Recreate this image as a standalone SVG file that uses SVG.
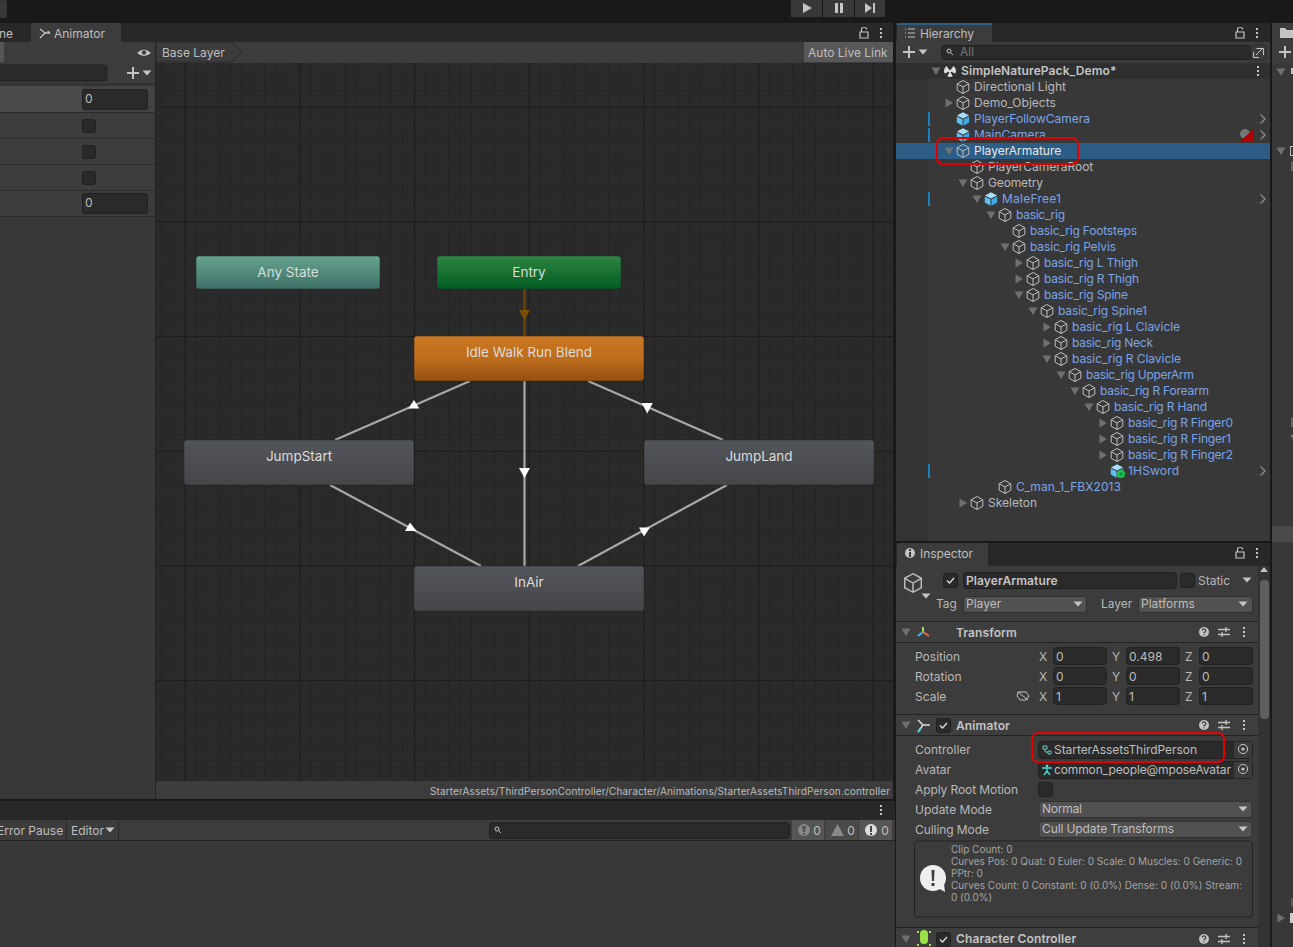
<svg xmlns="http://www.w3.org/2000/svg" width="1293" height="947" viewBox="0 0 1293 947">
<style>
text{font-family:Inter,"Noto Sans","Liberation Sans",sans-serif;font-size:12px;fill:#bebebe}
.b{fill:#7ba4e6}.w{fill:#e8e8e8}.g{fill:#b8b8b8}.h{font-weight:600;fill:#c4c4c4;letter-spacing:.1px}.sm{font-size:10px;fill:#a4a4a4}
.n{font-size:13.5px;text-anchor:middle;fill:#dcdcdc}
.f{fill:#2a2a2a;stroke:#212121}.dd{fill:#515151;stroke:#303030}.sep{fill:#232323}
.node{stroke:#2a2a2a;stroke-width:.5}
.edge{stroke:#a8a8a8;stroke-width:2.2;fill:none}
.head{fill:#fff}
.red{fill:none;stroke:#e30000;stroke-width:2}
</style>
<defs>
<pattern id="grid" x="184.6" y="106.7" width="114.7" height="114.7" patternUnits="userSpaceOnUse">
<rect width="114.7" height="114.7" fill="#2a2a2a"/>
<path d="M11.47 0V114.7M22.94 0V114.7M34.41 0V114.7M45.88 0V114.7M57.35 0V114.7M68.82 0V114.7M80.29 0V114.7M91.76 0V114.7M103.23 0V114.7M0 11.47H114.7M0 22.94H114.7M0 34.41H114.7M0 45.88H114.7M0 57.35H114.7M0 68.82H114.7M0 80.29H114.7M0 91.76H114.7M0 103.23H114.7" stroke="#252525" stroke-width="1"/>
<path d="M.5 0V114.7M0 .5H114.7" stroke="#1b1b1b" stroke-width="1"/>
</pattern>
<linearGradient id="gAny" x1="0" y1="0" x2="0" y2="1"><stop offset="0" stop-color="#66a38f"/><stop offset="1" stop-color="#3e7067"/></linearGradient>
<linearGradient id="gEntry" x1="0" y1="0" x2="0" y2="1"><stop offset="0" stop-color="#2e8543"/><stop offset="1" stop-color="#025c22"/></linearGradient>
<linearGradient id="gIdle" x1="0" y1="0" x2="0" y2="1"><stop offset="0" stop-color="#cb7722"/><stop offset=".5" stop-color="#bd6d1c"/><stop offset="1" stop-color="#94500f"/></linearGradient>
<linearGradient id="gGrey" x1="0" y1="0" x2="0" y2="1"><stop offset="0" stop-color="#52555b"/><stop offset="1" stop-color="#454649"/></linearGradient>
<symbol id="cube" viewBox="-7 -7 14 14" overflow="visible"><path d="M0-6.5 5.8-3.3V3.3L0 6.5-5.8 3.3V-3.3ZM-5.8-3.3 0 0 5.8-3.3M0 0V6.5" fill="none" stroke="#bebebe" stroke-width="1"/></symbol>
<symbol id="bcube" viewBox="-7 -7 14 14" overflow="visible"><path d="M0-6.8 6-3.5 0-.4-6-3.5Z" fill="#a6e0ff"/><path d="M-6.2-2.6-.5.4V6.8L-6.2 3.6Z" fill="#5cc1f5"/><path d="M6.2-2.6.5.4V6.8L6.2 3.6Z" fill="#3fa9e8"/></symbol>
<symbol id="dn" viewBox="-5 -5 10 10"><path d="M-4.5-3.5H4.5L0 4Z" fill="#6f6f6f"/></symbol>
<symbol id="rt" viewBox="-5 -5 10 10"><path d="M-3.5-4.5V4.5L4-0Z" fill="#6f6f6f"/></symbol>
<symbol id="dots" viewBox="-2 -6 4 12"><path d="M-1-5H1V-3H-1ZM-1-1H1V1H-1ZM-1 3H1V5H-1Z" fill="#c4c4c4"/></symbol>
<symbol id="plus" viewBox="-7 -7 14 14"><path d="M-6-1H-1V-6H1V-1H6V1H1V6H-1V1H-6Z" fill="#c4c4c4"/></symbol>
<symbol id="lock" viewBox="-5 -6 10 12"><path d="M-4-1H4V5H-4ZM-2.500-1V-3.500A2.500 2.500 0 0 1 2.500-3.500" fill="none" stroke="#c4c4c4" stroke-width="1.200"/></symbol>
<symbol id="chev" viewBox="-4 -6 8 12"><path d="M-2.500-4.500 2-0-2.500 4.500" fill="none" stroke="#8a8a8a" stroke-width="1.400"/></symbol>
<symbol id="arr" viewBox="-5 -3 10 6"><path d="M-4.500-2.500H4.500L0 2.500Z" fill="#c4c4c4"/></symbol>
<symbol id="help" viewBox="-6 -6 12 12"><circle r="5" fill="#c4c4c4"/><path d="M-1.800-1.500A1.800 1.800 0 1 1 0 .4V1.300M0 2.200V3.400" fill="none" stroke="#3c3c3c" stroke-width="1.200"/></symbol>
<symbol id="sliders" viewBox="-7 -6 14 12"><path d="M-6-2.500H6M-6 2.500H6M2-5V0M-2 0V5" fill="none" stroke="#c4c4c4" stroke-width="1.300"/></symbol>
<symbol id="chk" viewBox="-7.500 -7.500 15 15"><rect x="-7" y="-7" width="14" height="14" rx="2" fill="#2a2a2a" stroke="#212121"/><path d="M-3.500 0-1 2.500 3.500-2.500" fill="none" stroke="#ddd" stroke-width="1.400"/></symbol>
<symbol id="picker" viewBox="-6 -6 12 12"><circle r="4.600" fill="none" stroke="#c4c4c4"/><circle r="1.600" fill="#c4c4c4"/></symbol>
</defs>

<!-- chrome -->
<rect width="1293" height="947" fill="#191919"/>
<rect x="0" y="0" width="7" height="18" rx="2" fill="#383838"/>
<g id="playbar">
<rect x="791" y="0" width="31" height="17" fill="#383838"/><rect x="823" y="0" width="31" height="17" fill="#383838"/><rect x="855" y="0" width="30" height="17" fill="#383838"/>
<path d="M803 3V13L812 8Z" fill="#c4c4c4"/><path d="M835 3H838V13H835ZM840 3H843V13H840Z" fill="#c4c4c4"/><path d="M865 3V13L872 8ZM873 3H875V13H873Z" fill="#c4c4c4"/>
</g>

<!-- animator panel -->
<g id="animator-panel">
<rect x="0" y="23" width="893" height="19" fill="#282828"/>
<text x="-1" y="38">ne</text>
<path d="M31 25a2 2 0 0 1 2-2H119a2 2 0 0 1 2 2V42H31Z" fill="#3c3c3c"/>
<path d="M40 29 45 33 40 38M44 33H50M47.500 31 50 33" fill="none" stroke="#c4c4c4" stroke-width="1.300"/>
<text x="54" y="38">Animator</text>
<use href="#lock" x="859" y="27" width="10" height="12"/>
<use href="#dots" x="879" y="27" width="4" height="12"/>
<rect x="0" y="42" width="893" height="21" fill="#3c3c3c"/>
<rect x="155" y="42" width="1" height="21" fill="#232323"/>
<rect x="0" y="42" width="4" height="20" fill="#555"/>
<path d="M137 53Q144 46 151 53Q144 59 137 53Z" fill="#c4c4c4"/><circle cx="144" cy="52.500" r="2.200" fill="#3c3c3c"/>
<path d="M156 42H232L242 52 232 62H156Z" fill="#3c3c3c" stroke="#2a2a2a"/>
<text x="162" y="57">Base Layer</text>
<rect x="804" y="42" width="89" height="20" fill="#585858"/>
<text x="808" y="57">Auto Live Link</text>
<rect x="0" y="62" width="156" height="737" fill="#383838"/>
<rect x="0" y="62" width="155" height="21" fill="#3c3c3c"/>
<rect x="-10" y="65" width="117" height="16" rx="3" fill="#2a2a2a" stroke="#212121"/>
<use href="#plus" x="126" y="66" width="14" height="14"/>
<use href="#arr" x="142" y="70" width="10" height="6"/>
<rect x="0" y="83" width="155" height="3" fill="#333"/>
<rect x="0" y="86" width="82" height="26" fill="#4a4a4a"/>
<rect x="82" y="86" width="73" height="26" fill="#434343"/>
<rect x="0" y="112" width="155" height="26" fill="#3c3c3c"/><rect x="0" y="138" width="155" height="26" fill="#3c3c3c"/><rect x="0" y="164" width="155" height="26" fill="#3c3c3c"/><rect x="0" y="190" width="155" height="26" fill="#3c3c3c"/>
<path d="M0 112.500H155M0 138.500H155M0 164.500H155M0 190.500H155M0 216.500H155" stroke="#2a2a2a"/>
<rect x="82.500" y="89.500" width="65" height="20" rx="2" class="f"/><text x="85" y="103">0</text>
<rect x="82.500" y="119.500" width="13" height="13" rx="2" class="f"/>
<rect x="82.500" y="145.500" width="13" height="13" rx="2" class="f"/>
<rect x="82.500" y="171.500" width="13" height="13" rx="2" class="f"/>
<rect x="82.500" y="193.500" width="65" height="20" rx="2" class="f"/><text x="85" y="207">0</text>
<rect x="156" y="63" width="737" height="718" fill="url(#grid)"/>
<rect x="155" y="62" width="1" height="737" fill="#232323"/>
<rect x="156" y="781" width="737" height="18" fill="#3c3c3c"/>
<text x="430" y="795" textLength="460" class="sm" style="fill:#bcbcbc">StarterAssets/ThirdPersonController/Character/Animations/StarterAssetsThirdPerson.controller</text>
</g>

<!-- connectors -->
<g id="connectors">
<path d="M524.500 289V336" stroke="#6d4606" stroke-width="2.400" fill="none"/>
<path d="M519 310H530L524.500 320Z" fill="#7d4f00"/>
<path class="edge" d="M524.500 381V566"/>
<path class="head" d="M519 468H530L524.500 478Z"/>
<path class="edge" d="M335 440 470 381"/>
<path class="head" d="M408.300 408.500H419.300L414 400Z"/>
<path class="edge" d="M330 485 481 566"/>
<path class="head" d="M405 531H416.500L410 522.500Z"/>
<path class="edge" d="M588 381 723 440"/>
<path class="head" d="M641.700 403H652.700L647.300 413.500Z"/>
<path class="edge" d="M578 566 727 485"/>
<path class="head" d="M639 527.500H650L644 536.500Z"/>
</g>

<!-- state nodes -->
<g id="node-any-state"><rect class="node" x="196" y="256" width="184" height="33" rx="3" fill="url(#gAny)"/><text class="n" x="288" y="277">Any State</text></g>
<g id="node-entry"><rect class="node" x="437" y="256" width="184" height="33" rx="3" fill="url(#gEntry)"/><text class="n" x="529" y="277">Entry</text></g>
<g id="node-idle"><rect class="node" x="414" y="336" width="230" height="45" rx="3" fill="url(#gIdle)"/><text class="n" x="529" y="357">Idle Walk Run Blend</text></g>
<g id="node-jumpstart"><rect class="node" x="184" y="440" width="230" height="45" rx="3" fill="url(#gGrey)"/><text class="n" x="299" y="461">JumpStart</text></g>
<g id="node-jumpland"><rect class="node" x="644" y="440" width="230" height="45" rx="3" fill="url(#gGrey)"/><text class="n" x="759" y="461">JumpLand</text></g>
<g id="node-inair"><rect class="node" x="414" y="566" width="230" height="45" rx="3" fill="url(#gGrey)"/><text class="n" x="529" y="587">InAir</text></g>

<!-- console -->
<g id="console-panel">
<rect x="0" y="801" width="895" height="19" fill="#282828"/>
<use href="#dots" x="879" y="804" width="4" height="12"/>
<rect x="0" y="820" width="895" height="20" fill="#3c3c3c"/>
<rect x="0" y="840" width="895" height="1" fill="#232323"/>
<rect x="0" y="841" width="895" height="106" fill="#383838"/>
<text x="-3" y="835">Error Pause</text>
<path d="M66.500 820V840M118.500 820V840" stroke="#2a2a2a"/>
<text x="71" y="835">Editor</text>
<use href="#arr" x="105" y="827" width="10" height="6"/>
<rect x="489.500" y="822.500" width="300" height="16" rx="3" fill="#2a2a2a" stroke="#212121"/>
<circle cx="497" cy="829" r="2" fill="none" stroke="#c4c4c4"/><path d="M498.500 830.500 501 833" stroke="#c4c4c4"/>
<rect x="792" y="820" width="32" height="20" fill="#555"/><rect x="825" y="820" width="33" height="20" fill="#4a4a4a"/><rect x="859" y="820" width="33" height="20" fill="#555"/>
<circle cx="804" cy="830" r="6" fill="#888"/><path d="M802 826H806L805 832H803ZM803 833H805V835H803Z" fill="#555"/>
<path d="M831 836 837.500 824 844 836Z" fill="#888"/>
<circle cx="871" cy="830" r="6" fill="#ddd"/><path d="M870 826H872V832H870ZM870 833H872V835H870Z" fill="#444"/>
<text x="817" y="835" text-anchor="middle">0</text><text x="851" y="835" text-anchor="middle">0</text><text x="885" y="835" text-anchor="middle">0</text>
</g>

<!-- hierarchy -->
<g id="hierarchy-panel">
<rect x="896" y="23" width="374" height="19" fill="#282828"/>
<path d="M897 42V25a2 2 0 0 1 2-2H992V42Z" fill="#3c3c3c"/><rect x="897" y="23" width="95" height="2" fill="#2c5d87"/>
<path d="M905 29H915M905 33H915M905 37H915" stroke="#c4c4c4" stroke-dasharray="1 2 7 0"/>
<text x="920" y="38" textLength="54">Hierarchy</text>
<use href="#lock" x="1235" y="27" width="10" height="12"/>
<use href="#dots" x="1255" y="27" width="4" height="12"/>
<rect x="896" y="42" width="374" height="21" fill="#3c3c3c"/>
<use href="#plus" x="902" y="45" width="14" height="14"/>
<use href="#arr" x="918" y="49" width="10" height="6"/>
<rect x="941.500" y="45.500" width="309" height="14" rx="3" fill="#2a2a2a" stroke="#212121"/>
<circle cx="949" cy="51" r="2" fill="none" stroke="#c4c4c4"/><path d="M950.500 52.500 953 55" stroke="#c4c4c4"/>
<text x="960" y="56" style="fill:#777">All</text>
<rect x="1251" y="45" width="15" height="15" rx="2" fill="#3c3c3c" stroke="#2a2a2a"/>
<path d="M1253.500 52V57.500H1259M1256.500 48.500H1263.500V55M1256 55 1262 49" fill="none" stroke="#c4c4c4"/>
<rect x="896" y="63" width="374" height="478" fill="#383838"/>
<rect x="896" y="63" width="32" height="478" fill="#333"/>
<rect x="896" y="63" width="374" height="16" fill="#2f2f2f"/>
<rect x="896" y="143" width="374" height="16" fill="#2c5d87"/>
<path d="M928 112h2v14h-2ZM928 128h2v14h-2ZM928 192h2v14h-2ZM928 464h2v14h-2Z" fill="#1a7fbf"/>

<use href="#dn" x="931" y="66" width="10" height="10"/>
<circle cx="950" cy="71" r="6" fill="#ddd"/><path d="M950 71 946 65H954ZM950 71 944 74 947 77ZM950 71 956 74 953 77Z" fill="#2f2f2f"/><circle cx="950" cy="71" r="1.300" fill="#ddd"/>
<text x="961" y="75" class="h">SimpleNaturePack_Demo*</text>
<use href="#dots" x="1256" y="65" width="4" height="12"/>

<use href="#cube" x="956" y="80" width="14" height="14"/><text x="974" y="91" class="g">Directional Light</text>
<use href="#rt" x="944" y="98" width="10" height="10"/><use href="#cube" x="956" y="96" width="14" height="14"/><text x="974" y="107" class="g">Demo_Objects</text>
<use href="#bcube" x="956" y="112" width="14" height="14"/><text x="974" y="123" class="b">PlayerFollowCamera</text>
<use href="#chev" x="1259" y="113" width="8" height="12"/>
<use href="#bcube" x="956" y="128" width="14" height="14"/><text x="974" y="139" class="b">MainCamera</text>
<circle cx="1245" cy="134" r="5" fill="#777"/><path d="M1240 141 1254 129V141Z" fill="#b00000"/>
<use href="#chev" x="1259" y="129" width="8" height="12"/>
<use href="#dn" x="944" y="146" width="10" height="10"/><use href="#cube" x="956" y="144" width="14" height="14"/><text x="974" y="155" class="w">PlayerArmature</text>
<use href="#cube" x="970" y="160" width="14" height="14"/><text x="988" y="171" class="g">PlayerCameraRoot</text>
<use href="#dn" x="958" y="178" width="10" height="10"/><use href="#cube" x="970" y="176" width="14" height="14"/><text x="988" y="187" class="g" textLength="55">Geometry</text>
<use href="#dn" x="972" y="194" width="10" height="10"/><use href="#bcube" x="984" y="192" width="14" height="14"/><text x="1002" y="203" class="b" textLength="59">MaleFree1</text>
<use href="#chev" x="1259" y="193" width="8" height="12"/>
<use href="#dn" x="986" y="210" width="10" height="10"/><use href="#cube" x="998" y="208" width="14" height="14"/><text x="1016" y="219" class="b" textLength="49">basic_rig</text>
<use href="#cube" x="1012" y="224" width="14" height="14"/><text x="1030" y="235" class="b" textLength="107">basic_rig Footsteps</text>
<use href="#dn" x="1000" y="242" width="10" height="10"/><use href="#cube" x="1012" y="240" width="14" height="14"/><text x="1030" y="251" class="b" textLength="86">basic_rig Pelvis</text>
<use href="#rt" x="1014" y="258" width="10" height="10"/><use href="#cube" x="1026" y="256" width="14" height="14"/><text x="1044" y="267" class="b" textLength="94">basic_rig L Thigh</text>
<use href="#rt" x="1014" y="274" width="10" height="10"/><use href="#cube" x="1026" y="272" width="14" height="14"/><text x="1044" y="283" class="b" textLength="95">basic_rig R Thigh</text>
<use href="#dn" x="1014" y="290" width="10" height="10"/><use href="#cube" x="1026" y="288" width="14" height="14"/><text x="1044" y="299" class="b" textLength="84">basic_rig Spine</text>
<use href="#dn" x="1028" y="306" width="10" height="10"/><use href="#cube" x="1040" y="304" width="14" height="14"/><text x="1058" y="315" class="b" textLength="89">basic_rig Spine1</text>
<use href="#rt" x="1042" y="322" width="10" height="10"/><use href="#cube" x="1054" y="320" width="14" height="14"/><text x="1072" y="331" class="b" textLength="108">basic_rig L Clavicle</text>
<use href="#rt" x="1042" y="338" width="10" height="10"/><use href="#cube" x="1054" y="336" width="14" height="14"/><text x="1072" y="347" class="b" textLength="81">basic_rig Neck</text>
<use href="#dn" x="1042" y="354" width="10" height="10"/><use href="#cube" x="1054" y="352" width="14" height="14"/><text x="1072" y="363" class="b" textLength="109">basic_rig R Clavicle</text>
<use href="#dn" x="1056" y="370" width="10" height="10"/><use href="#cube" x="1068" y="368" width="14" height="14"/><text x="1086" y="379" class="b" textLength="108">basic_rig UpperArm</text>
<use href="#dn" x="1070" y="386" width="10" height="10"/><use href="#cube" x="1082" y="384" width="14" height="14"/><text x="1100" y="395" class="b" textLength="109">basic_rig R Forearm</text>
<use href="#dn" x="1084" y="402" width="10" height="10"/><use href="#cube" x="1096" y="400" width="14" height="14"/><text x="1114" y="411" class="b" textLength="93">basic_rig R Hand</text>
<use href="#rt" x="1098" y="418" width="10" height="10"/><use href="#cube" x="1110" y="416" width="14" height="14"/><text x="1128" y="427" class="b" textLength="105">basic_rig R Finger0</text>
<use href="#rt" x="1098" y="434" width="10" height="10"/><use href="#cube" x="1110" y="432" width="14" height="14"/><text x="1128" y="443" class="b" textLength="103">basic_rig R Finger1</text>
<use href="#rt" x="1098" y="450" width="10" height="10"/><use href="#cube" x="1110" y="448" width="14" height="14"/><text x="1128" y="459" class="b" textLength="105">basic_rig R Finger2</text>
<use href="#bcube" x="1110" y="464" width="14" height="14"/><circle cx="1121" cy="474" r="4" fill="#1fc24a"/><path d="M1119 474H1123M1121 472V476" stroke="#083" stroke-width="1"/><text x="1128" y="475" class="b" textLength="51">1HSword</text>
<use href="#chev" x="1259" y="465" width="8" height="12"/>
<use href="#cube" x="998" y="480" width="14" height="14"/><text x="1016" y="491" class="b" textLength="105">C_man_1_FBX2013</text>
<use href="#rt" x="958" y="498" width="10" height="10"/><use href="#cube" x="970" y="496" width="14" height="14"/><text x="988" y="507" class="g">Skeleton</text>
<rect class="red" x="937" y="138" width="141" height="26" rx="6"/>
</g>

<!-- right panel -->
<g id="project-panel">
<rect x="1272" y="23" width="21" height="19" fill="#3c3c3c"/>
<rect x="1272" y="42" width="21" height="21" fill="#3c3c3c"/>
<rect x="1272" y="63" width="21" height="884" fill="#383838"/>
<rect x="1272" y="526" width="21" height="16" fill="#4a4a4a"/>
<path d="M1280 28H1285L1287 30H1293V38H1280Z" fill="#c4c4c4"/>
<use href="#plus" x="1278" y="45" width="14" height="14"/>
<use href="#dn" x="1276" y="67" width="10" height="10"/>
<path d="M1291 68H1293V74H1291Z" fill="#c4c4c4"/>
<use href="#dn" x="1276" y="146" width="10" height="10"/>
<rect x="1290.500" y="146.500" width="4" height="9" fill="none" stroke="#bbb"/>
<rect x="1291" y="162" width="3" height="9" fill="#666"/>
<rect x="1291" y="418" width="3" height="9" fill="#666"/>
<path d="M1290 435H1294V441Z" fill="#6f6f6f"/>
<rect x="1291" y="898" width="3" height="9" fill="#5a5a5a"/>
<use href="#rt" x="1276" y="913" width="10" height="10"/>
<rect x="1290" y="913" width="4" height="10" fill="#ccc"/>
</g>

<!-- inspector -->
<g id="inspector-panel">
<rect x="896" y="543" width="374" height="23" fill="#282828"/>
<path d="M897 566V545a2 2 0 0 1 2-2H988V566Z" fill="#3c3c3c"/>
<circle cx="910" cy="553" r="5" fill="#c4c4c4"/><path d="M909 549H911V551H909ZM909 552H911V557H909Z" fill="#3c3c3c"/>
<text x="920" y="558" textLength="53">Inspector</text>
<use href="#lock" x="1235" y="547" width="10" height="12"/>
<use href="#dots" x="1255" y="547" width="4" height="12"/>
<rect x="896" y="566" width="374" height="381" fill="#3c3c3c"/>
<rect x="1258" y="566" width="12" height="381" fill="#333"/>
<path d="M1260 572 1264 567 1268 572Z" fill="#c4c4c4"/>
<rect x="1260" y="580" width="9" height="139" rx="4" fill="#5f5f5f"/>
<use href="#cube" x="903" y="573" width="20" height="20"/>
<use href="#arr" x="921" y="593" width="10" height="6"/>
<use href="#chk" x="943" y="573" width="15" height="15"/>
<rect x="963.500" y="572.500" width="213" height="16" rx="3" class="f"/>
<text x="966" y="585" class="h">PlayerArmature</text>
<rect x="1180.500" y="573.500" width="14" height="14" rx="2" class="f"/>
<text x="1198" y="585" class="g">Static</text>
<use href="#arr" x="1242" y="577" width="10" height="6"/>
<text x="936" y="608" class="g">Tag</text>
<rect x="963.500" y="596.500" width="123" height="16" rx="3" class="dd"/><text x="966" y="608">Player</text>
<use href="#arr" x="1073" y="601" width="10" height="6"/>
<text x="1101" y="608" class="g">Layer</text>
<rect x="1138.500" y="596.500" width="114" height="16" rx="3" class="dd"/><text x="1141" y="608">Platforms</text>
<use href="#arr" x="1238" y="601" width="10" height="6"/>

<rect x="896" y="621" width="362" height="1" class="sep"/>
<rect x="896" y="622" width="362" height="20" fill="#3e3e3e"/>
<rect x="896" y="642" width="362" height="1" class="sep"/>
<use href="#dn" x="901" y="627" width="10" height="10"/>
<path d="M923 627V632" stroke="#9be04a" stroke-width="2"/><path d="M923 632 918 636" stroke="#3fb2e8" stroke-width="2"/><path d="M923 632 929 636" stroke="#e8683f" stroke-width="2"/>
<text x="956" y="637" class="h">Transform</text>
<use href="#help" x="1198" y="626" width="12" height="12"/><use href="#sliders" x="1217" y="626" width="14" height="12"/><use href="#dots" x="1242" y="626" width="4" height="12"/>
<text x="915" y="661" class="g">Position</text><text x="915" y="681" class="g">Rotation</text><text x="915" y="701" class="g">Scale</text>
<path d="M1018 692H1026L1029 696 1026 700H1020L1017 696ZM1018 692 1028 700" fill="none" stroke="#c4c4c4"/>
<text x="1039" y="661" class="g">X</text><text x="1112" y="661" class="g">Y</text><text x="1185" y="661" class="g">Z</text>
<text x="1039" y="681" class="g">X</text><text x="1112" y="681" class="g">Y</text><text x="1185" y="681" class="g">Z</text>
<text x="1039" y="701" class="g">X</text><text x="1112" y="701" class="g">Y</text><text x="1185" y="701" class="g">Z</text>
<rect x="1053.500" y="647.500" width="53" height="17" rx="3" class="f"/><rect x="1126.500" y="647.500" width="53" height="17" rx="3" class="f"/><rect x="1199.500" y="647.500" width="53" height="17" rx="3" class="f"/>
<rect x="1053.500" y="667.500" width="53" height="17" rx="3" class="f"/><rect x="1126.500" y="667.500" width="53" height="17" rx="3" class="f"/><rect x="1199.500" y="667.500" width="53" height="17" rx="3" class="f"/>
<rect x="1053.500" y="687.500" width="53" height="17" rx="3" class="f"/><rect x="1126.500" y="687.500" width="53" height="17" rx="3" class="f"/><rect x="1199.500" y="687.500" width="53" height="17" rx="3" class="f"/>
<text x="1056" y="661">0</text><text x="1129" y="661">0.498</text><text x="1202" y="661">0</text>
<text x="1056" y="681">0</text><text x="1129" y="681">0</text><text x="1202" y="681">0</text>
<text x="1056" y="701">1</text><text x="1129" y="701">1</text><text x="1202" y="701">1</text>

<rect x="896" y="714" width="362" height="1" class="sep"/>
<rect x="896" y="715" width="362" height="20" fill="#3e3e3e"/>
<rect x="896" y="735" width="362" height="1" class="sep"/>
<use href="#dn" x="901" y="720" width="10" height="10"/>
<path d="M918 720 923 725H930M918 732 923 725" fill="none" stroke="#ddd" stroke-width="1.500"/><path d="M918 732 921 728" stroke="#4fd8d0" stroke-width="2"/>
<use href="#chk" x="936" y="718" width="15" height="15"/>
<text x="956" y="730" class="h">Animator</text>
<use href="#help" x="1198" y="719" width="12" height="12"/><use href="#sliders" x="1217" y="719" width="14" height="12"/><use href="#dots" x="1242" y="719" width="4" height="12"/>

<text x="915" y="754" class="g">Controller</text><text x="915" y="774" class="g">Avatar</text><text x="915" y="794" class="g" textLength="103">Apply Root Motion</text><text x="915" y="814" class="g">Update Mode</text><text x="915" y="834" class="g" textLength="74">Culling Mode</text>
<rect x="1038.500" y="741.500" width="214" height="17" rx="3" class="f"/><rect x="1234" y="742" width="18" height="16" fill="#3c3c3c"/>
<path d="M1043 746H1047V749H1043ZM1048 751H1051V754H1048ZM1045 749V752H1048" fill="none" stroke="#6fc9b8"/>
<text x="1054" y="754" textLength="143">StarterAssetsThirdPerson</text>
<use href="#picker" x="1237" y="743" width="12" height="12"/>
<rect x="1038.500" y="761.500" width="214" height="17" rx="3" class="f"/><rect x="1234" y="762" width="18" height="16" fill="#3c3c3c"/>
<circle cx="1047" cy="766" r="1.500" fill="#4fd8d0"/><path d="M1042 768H1052M1047 768V771L1044 775M1047 771 1050 775" fill="none" stroke="#4fd8d0" stroke-width="1.300"/>
<text x="1054" y="774" textLength="177">common_people@mposeAvatar</text>
<use href="#picker" x="1237" y="763" width="12" height="12"/>
<rect x="1038.500" y="782.500" width="14" height="14" rx="2" class="f"/>
<rect x="1039" y="801.500" width="213" height="16" rx="3" class="dd"/><text x="1042" y="813" textLength="40">Normal</text><use href="#arr" x="1238" y="806" width="10" height="6"/>
<rect x="1039" y="821.500" width="213" height="16" rx="3" class="dd"/><text x="1042" y="833" textLength="132">Cull Update Transforms</text><use href="#arr" x="1238" y="826" width="10" height="6"/>
<rect x="914.500" y="841" width="338" height="76" rx="3" fill="#3c3c3c" stroke="#232323"/>
<circle cx="933" cy="878" r="13" fill="#eee"/><path d="M938 888 945 892 944 884Z" fill="#eee"/><path d="M931.500 870H934.500L934 881H932ZM931.500 883H934.500V886H931.500Z" fill="#3c3c3c"/>
<text x="951" y="853" class="sm">Clip Count: 0</text>
<text x="951" y="865" class="sm" textLength="291">Curves Pos: 0 Quat: 0 Euler: 0 Scale: 0 Muscles: 0 Generic: 0</text>
<text x="951" y="877" class="sm">PPtr: 0</text>
<text x="951" y="889" class="sm" textLength="291">Curves Count: 0 Constant: 0 (0.0%) Dense: 0 (0.0%) Stream:</text>
<text x="951" y="901" class="sm">0 (0.0%)</text>
<rect x="896" y="927" width="362" height="1" class="sep"/>
<rect x="896" y="928" width="362" height="19" fill="#3e3e3e"/>
<use href="#dn" x="901" y="934" width="10" height="10"/>
<path d="M920 934A4 4 0 0 1 928 934V940A4 4 0 0 1 920 940Z" fill="#9be04a"/><path d="M917 932H919M929 932H931M917 945H919M929 945H931" stroke="#9be04a" stroke-width="2"/>
<use href="#chk" x="936" y="932" width="15" height="15"/>
<text x="956" y="943" class="h">Character Controller</text>
<use href="#help" x="1198" y="933" width="12" height="12"/><use href="#sliders" x="1217" y="933" width="14" height="12"/><use href="#dots" x="1242" y="933" width="4" height="12"/>
<rect class="red" x="1032" y="733" width="192" height="29" rx="6"/>
</g>
</svg>
